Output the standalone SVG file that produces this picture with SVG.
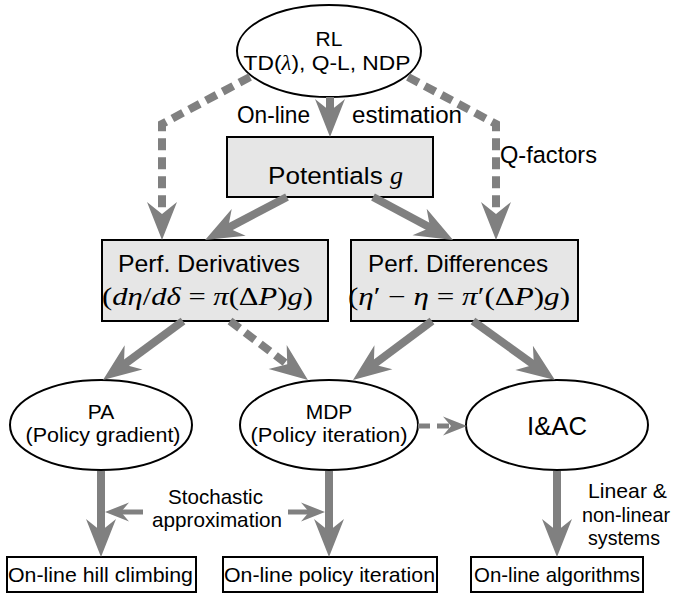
<svg xmlns="http://www.w3.org/2000/svg" width="675" height="596" viewBox="0 0 675 596">
<style>
  .bx { fill: #e6e6e6; stroke: #000; stroke-width: 2; }
  .wb { fill: #fff; stroke: #000; stroke-width: 2; }
  .el { fill: #fff; stroke: #000; stroke-width: 2; }
  text { font-family: "Liberation Sans", Arial, sans-serif; fill: #000; }
  .big { font-size: 24.5px; }
  .sm { font-size: 21px; }
  .mid { text-anchor: middle; }
  .mi { font-family: "Liberation Serif", "Times New Roman", serif; font-style: italic; }
  .mu { font-family: "Liberation Serif", "Times New Roman", serif; font-style: normal; }
  .a { fill: none; stroke: #808080; stroke-width: 8; stroke-linecap: butt; stroke-linejoin: miter; }
  .a2 { fill: none; stroke: #808080; stroke-width: 5; stroke-linecap: butt; }
  .d { stroke-dasharray: 12 7; }
  .ah { fill: #808080; }
</style>
<defs>
  <marker id="big" markerUnits="userSpaceOnUse" viewBox="-20 -20 50 40" markerWidth="50" markerHeight="40" refX="0" refY="0" orient="auto" overflow="visible">
    <path class="ah" d="M24,0 L-14,-15 L-2,0 L-14,15 Z"/>
  </marker>
  <marker id="small" markerUnits="userSpaceOnUse" viewBox="-15 -15 35 30" markerWidth="35" markerHeight="30" refX="0" refY="0" orient="auto" overflow="visible">
    <path class="ah" d="M15,0 L-9,-9.5 L-1,0 L-9,9.5 Z"/>
  </marker>
</defs>

<g id="rl">
  <ellipse class="el" cx="329" cy="51" rx="92" ry="46"/>
  <text class="sm mid" x="329" y="46">RL</text>
  <text class="sm mid" x="327" y="70" textLength="167" lengthAdjust="spacingAndGlyphs">TD(<tspan class="mi">λ</tspan>), Q-L, NDP</text>
</g>

<g id="potentials">
  <rect class="bx" x="227" y="137" width="206" height="60"/>
  <text class="big" x="268" y="184" textLength="135" lengthAdjust="spacingAndGlyphs">Potentials <tspan class="mi">g</tspan></text>
</g>

<g id="perf-derivatives">
  <rect class="bx" x="102" y="240" width="226" height="81"/>
  <text class="big mid" x="209" y="272" textLength="182" lengthAdjust="spacingAndGlyphs">Perf. Derivatives</text>
  <text class="big mu" x="102" y="305" textLength="211" lengthAdjust="spacingAndGlyphs">(<tspan class="mi">dη</tspan>/<tspan class="mi">dδ</tspan> = <tspan class="mi">π</tspan>(Δ<tspan class="mi">P</tspan>)<tspan class="mi">g</tspan>)</text>
</g>

<g id="perf-differences">
  <rect class="bx" x="351" y="240" width="227" height="81"/>
  <text class="big mid" x="458" y="272" textLength="180" lengthAdjust="spacingAndGlyphs">Perf. Differences</text>
  <text class="big mu" x="348" y="305" textLength="222" lengthAdjust="spacingAndGlyphs">(<tspan class="mi">η</tspan>′ − <tspan class="mi">η</tspan> = <tspan class="mi">π</tspan>′(Δ<tspan class="mi">P</tspan>)<tspan class="mi">g</tspan>)</text>
</g>

<g id="pa">
  <ellipse class="el" cx="101" cy="425" rx="91" ry="45"/>
  <text class="sm mid" x="101" y="419">PA</text>
  <text class="sm mid" x="103" y="442" textLength="155" lengthAdjust="spacingAndGlyphs">(Policy gradient)</text>
</g>

<g id="mdp">
  <ellipse class="el" cx="329" cy="425" rx="89" ry="45"/>
  <text class="sm mid" x="329" y="419">MDP</text>
  <text class="sm mid" x="329" y="442" textLength="157" lengthAdjust="spacingAndGlyphs">(Policy iteration)</text>
</g>

<g id="iac">
  <ellipse class="el" cx="557" cy="425" rx="91" ry="45"/>
  <text class="mid" x="557" y="435" font-size="25" textLength="60" lengthAdjust="spacingAndGlyphs">I&amp;AC</text>
</g>

<g id="hill-climbing">
  <rect class="wb" x="7" y="557" width="189" height="35"/>
  <text class="sm" x="8" y="582" textLength="185" lengthAdjust="spacingAndGlyphs">On-line hill climbing</text>
</g>

<g id="policy-iteration">
  <rect class="wb" x="223" y="557" width="214" height="35"/>
  <text class="sm" x="224" y="582" textLength="211" lengthAdjust="spacingAndGlyphs">On-line policy iteration</text>
</g>

<g id="algorithms">
  <rect class="wb" x="471" y="557" width="172" height="35"/>
  <text class="sm" x="474" y="582" textLength="166" lengthAdjust="spacingAndGlyphs">On-line algorithms</text>
</g>

<g id="connectors">
  <line class="a" x1="330" y1="97" x2="330" y2="113" marker-end="url(#big)"/>
  <polyline class="a d" points="250,77 162,124 162,216" marker-end="url(#big)"/>
  <polyline class="a d" points="408,77 496,124 496,216" marker-end="url(#big)"/>
  <line class="a" x1="287" y1="197" x2="226.3" y2="228.9" marker-end="url(#big)"/>
  <line class="a" x1="373" y1="197" x2="431.9" y2="228.6" marker-end="url(#big)"/>
  <line class="a" x1="183" y1="321" x2="122.3" y2="365.7" marker-end="url(#big)"/>
  <line class="a d" x1="230" y1="321" x2="288.8" y2="365.5" marker-end="url(#big)"/>
  <line class="a" x1="432" y1="321" x2="372.2" y2="365.6" marker-end="url(#big)"/>
  <line class="a" x1="473" y1="321" x2="535.5" y2="366" marker-end="url(#big)"/>
  <line class="a2 d" x1="418" y1="426" x2="452" y2="426" marker-end="url(#small)"/>
  <line class="a" x1="101" y1="471" x2="101" y2="533" marker-end="url(#big)"/>
  <line class="a" x1="329" y1="471" x2="329" y2="533" marker-end="url(#big)"/>
  <line class="a" x1="557" y1="471" x2="557" y2="533" marker-end="url(#big)"/>
  <line class="a2" x1="143" y1="512" x2="120" y2="512" marker-end="url(#small)"/>
  <line class="a2" x1="288" y1="512" x2="310" y2="512" marker-end="url(#small)"/>
</g>

<g id="labels">
  <text class="big" x="237" y="123" textLength="73" lengthAdjust="spacingAndGlyphs">On-line</text>
  <text class="big" x="352" y="123" textLength="110" lengthAdjust="spacingAndGlyphs">estimation</text>
  <text class="big" x="500" y="163" textLength="97" lengthAdjust="spacingAndGlyphs">Q-factors</text>
  <text class="sm" x="168" y="504" textLength="95" lengthAdjust="spacingAndGlyphs">Stochastic</text>
  <text class="sm" x="152" y="527" textLength="130" lengthAdjust="spacingAndGlyphs">approximation</text>
  <text class="sm" x="588" y="498" textLength="79" lengthAdjust="spacingAndGlyphs">Linear &amp;</text>
  <text class="sm" x="582" y="522" textLength="88" lengthAdjust="spacingAndGlyphs">non-linear</text>
  <text class="sm" x="588" y="545" textLength="72" lengthAdjust="spacingAndGlyphs">systems</text>
</g>
</svg>
